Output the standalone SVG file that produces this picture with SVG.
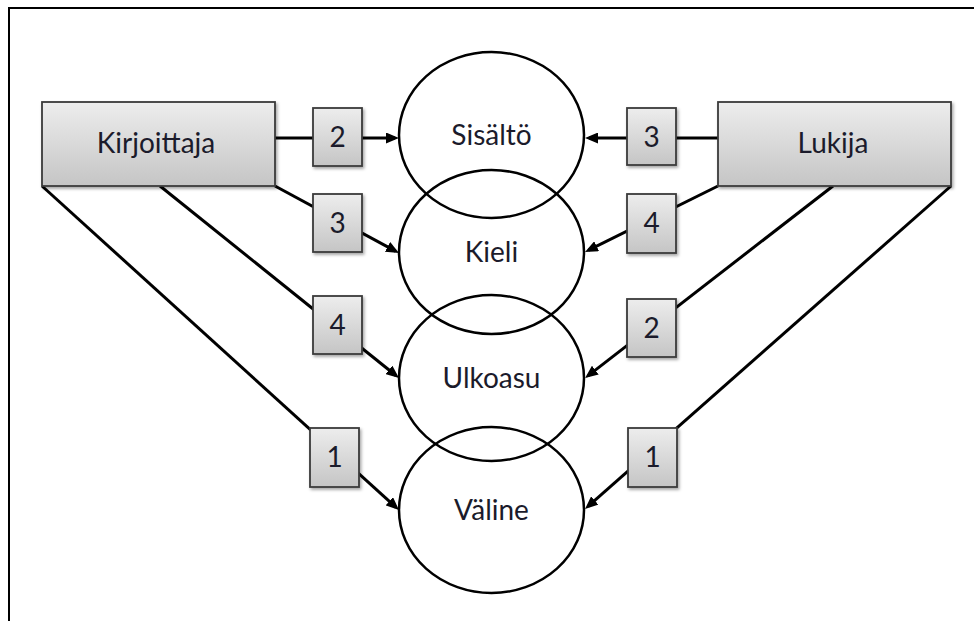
<svg xmlns="http://www.w3.org/2000/svg" width="974" height="621" viewBox="0 0 974 621">
  <style>
    .frame { fill: none; stroke: #000; stroke-width: 2; }
    .link { fill: none; stroke: #000; stroke-width: 3; marker-end: url(#arrow); }
    .topic { fill: none; stroke: #000; stroke-width: 2.5; }
    .box { fill: url(#boxFill); stroke: #3a3a3a; stroke-width: 1.8; filter: url(#shadow); }
    .label { font-family: Lato, "Liberation Sans", sans-serif; font-size: 28px; fill: #1b1b2b; text-anchor: middle; }
    .num { font-family: Lato, "Liberation Sans", sans-serif; font-size: 28px; fill: #1b1b2b; text-anchor: middle; }
  </style>
  <defs>
    <linearGradient id="boxFill" x1="0" y1="0" x2="0" y2="1">
      <stop offset="0" stop-color="#ededed"/>
      <stop offset="1" stop-color="#c5c5c5"/>
    </linearGradient>
    <filter id="shadow" x="-20%" y="-20%" width="150%" height="150%">
      <feDropShadow dx="1.5" dy="2" stdDeviation="1.5" flood-color="#000" flood-opacity="0.35"/>
    </filter>
    <marker id="arrow" markerUnits="userSpaceOnUse" markerWidth="13" markerHeight="11" viewBox="0 0 13 11" refX="9" refY="5.5" orient="auto">
      <path d="M0,0 L13,5.5 L0,11 z" fill="#000"/>
    </marker>
  </defs>

  <rect width="974" height="621" fill="#fff"/>
  <path class="frame" d="M9,621 V8 H974"/>

  <g id="connectors">
    <!-- Kirjoittaja to the four topics -->
    <line class="link" x1="275" y1="138" x2="395" y2="138"/>
    <line class="link" x1="275" y1="186" x2="395.5" y2="251.1"/>
    <line class="link" x1="160" y1="186" x2="395.9" y2="375.5"/>
    <line class="link" x1="42" y1="186" x2="396" y2="507.3"/>
    <!-- Lukija to the four topics -->
    <line class="link" x1="718" y1="138" x2="589" y2="138"/>
    <line class="link" x1="718" y1="186" x2="588.6" y2="250.2"/>
    <line class="link" x1="833" y1="186" x2="588.2" y2="375.6"/>
    <line class="link" x1="951" y1="186" x2="588" y2="506.4"/>
  </g>

  <g id="topics">
    <g id="sisalto">
      <ellipse class="topic" cx="491.5" cy="135" rx="92.5" ry="83"/>
      <text class="label" x="491.5" y="145">Sisältö</text>
    </g>
    <g id="kieli">
      <ellipse class="topic" cx="491.5" cy="252" rx="92.5" ry="82"/>
      <text class="label" x="491.5" y="262">Kieli</text>
    </g>
    <g id="ulkoasu">
      <ellipse class="topic" cx="491.5" cy="378" rx="92.5" ry="83"/>
      <text class="label" x="491.5" y="388">Ulkoasu</text>
    </g>
    <g id="valine">
      <ellipse class="topic" cx="491.5" cy="510" rx="92.5" ry="83"/>
      <text class="label" x="491.5" y="520">Väline</text>
    </g>
  </g>

  <g id="kirjoittaja">
    <rect class="box" x="42" y="102" width="233" height="84"/>
    <text class="label" x="156" y="153">Kirjoittaja</text>
  </g>
  <g id="lukija">
    <rect class="box" x="718" y="102" width="233" height="84"/>
    <text class="label" x="833" y="153">Lukija</text>
  </g>

  <!-- order numbers on the writer's side -->
  <g id="k-sisalto">
    <rect class="box" x="313" y="108" width="49" height="58"/>
    <text class="num" x="337.5" y="147">2</text>
  </g>
  <g id="k-kieli">
    <rect class="box" x="313" y="194" width="49" height="58"/>
    <text class="num" x="337.5" y="233">3</text>
  </g>
  <g id="k-ulkoasu">
    <rect class="box" x="313" y="296" width="49" height="58"/>
    <text class="num" x="337.5" y="335">4</text>
  </g>
  <g id="k-valine">
    <rect class="box" x="310" y="428" width="49" height="59"/>
    <text class="num" x="334.5" y="467">1</text>
  </g>

  <!-- order numbers on the reader's side -->
  <g id="l-sisalto">
    <rect class="box" x="627" y="108" width="49" height="57"/>
    <text class="num" x="651.5" y="147">3</text>
  </g>
  <g id="l-kieli">
    <rect class="box" x="627" y="194" width="49" height="59"/>
    <text class="num" x="651.5" y="233">4</text>
  </g>
  <g id="l-ulkoasu">
    <rect class="box" x="627" y="299" width="49" height="58"/>
    <text class="num" x="651.5" y="338">2</text>
  </g>
  <g id="l-valine">
    <rect class="box" x="628" y="428" width="49" height="59"/>
    <text class="num" x="652.5" y="467">1</text>
  </g>
</svg>
